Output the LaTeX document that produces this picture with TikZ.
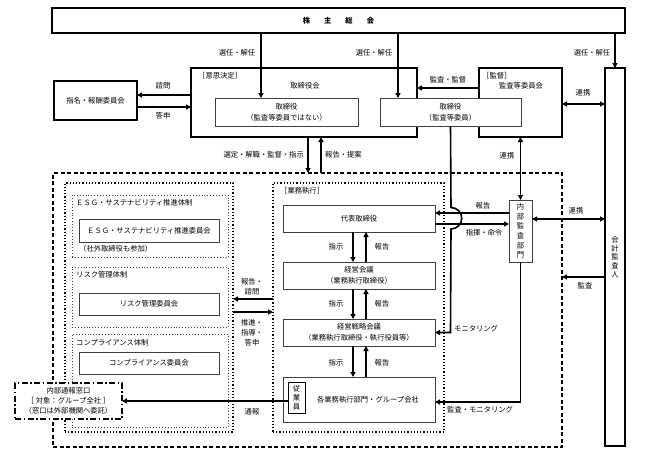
\documentclass[tikz,border=0pt]{standalone}
\usepackage{fontspec}
\setmainfont{Noto Sans CJK JP}
\usepackage{tikz}
\usetikzlibrary{arrows.meta,shapes,calc,positioning}
\tikzstyle{box}=[draw,line width=1.6pt,inner sep=0pt,outer sep=0pt,align=center]
\tikzstyle{inbox}=[box,line width=0.8pt,draw=black!75,fill=white]
\tikzstyle{sysbox}=[draw=black!75,dotted,line width=0.9pt,inner sep=0pt,outer sep=0pt]
\tikzstyle{arr}=[line width=1.6pt,-{Triangle[length=5pt,width=5pt]}]
\tikzstyle{darr}=[line width=1.6pt,{Triangle[length=5pt,width=5pt]}-{Triangle[length=5pt,width=5pt]}]
\tikzstyle{lbl}=[inner sep=0pt,align=center]

\begin{document}
\begin{tikzpicture}[x=1pt,y=-1pt,font=\fontsize{7.3}{11}\selectfont]
\useasboundingbox (0,0) rectangle (648,461);
% rows and columns used by connectors
\coordinate (x261) at (261,0);
\coordinate (x308) at (308,0);
\coordinate (x321) at (321,0);
\coordinate (x353) at (353,0);
\coordinate (x366) at (366,0);
\coordinate (x398) at (398,0);
\coordinate (y95) at (0,95);
\coordinate (y107) at (0,107);
\coordinate (y88) at (0,88);
\coordinate (y104) at (0,104);
\coordinate (y213) at (0,213);
\coordinate (y219) at (0,219);
\coordinate (y224) at (0,224);
\coordinate (y277) at (0,277);
\coordinate (y299) at (0,299);
\coordinate (y312) at (0,312);
\coordinate (y402) at (0,402);

% top level
\node[box,minimum width=573pt,minimum height=25pt] (kabu) at (338.5,20.5)
  {\bfseries 株\hskip14pt 主\hskip14pt 総\hskip14pt 会};
\node[box,minimum width=226pt,minimum height=69pt] (torikai) at (304,102.5) {};
\node[box,minimum width=83pt,minimum height=69pt] (kansa) at (520.5,102.5) {};
\node[lbl,anchor=west] (tkhead) at (198,76) {［意思決定］};
\node[lbl] (tktitle) at (305,86) {取締役会};
\node[lbl,anchor=west] (kshead) at (482,76) {［監督］};
\node[lbl] (kstitle) at (521,86) {監査等委員会};
\node[inbox,minimum width=143pt,minimum height=28pt] (tori1) at (286.5,112)
  {取締役\\（監査等委員ではない）};
\node[inbox,minimum width=141pt,minimum height=28pt] (tori2) at (450.5,112)
  {取締役\\（監査等委員）};
\node[box,minimum width=83pt,minimum height=39pt] (shimei) at (95.5,100.5) {指名・報酬委員会};
\node[box,line width=1.2pt,minimum width=20pt,minimum height=378pt,
  font=\fontsize{7.3}{8.6}\selectfont] (kaikei) at (615,257) {会\\計\\監\\査\\人};

% execution side
\node[box,line width=1.3pt,dashed,dash pattern=on 4pt off 2.5pt,
  minimum width=509pt,minimum height=274pt] (bigdash) at (307.5,310) {};
\node[sysbox,line width=1.2pt,draw=black,minimum width=171pt,minimum height=249pt] (gyomu) at (358.5,307.5) {};
\node[lbl,anchor=west] (gyhead) at (280,191) {［業務執行］};
\node[sysbox,line width=1.2pt,draw=black,minimum width=168pt,minimum height=249pt] (leftgrp) at (149,307.5) {};

\node[sysbox,minimum width=156pt,minimum height=62pt] (esgsys) at (150,226) {};
\node[lbl,anchor=west] (esghead) at (76,203) {ＥＳＧ・サステナビリティ推進体制};
\node[inbox,minimum width=140pt,minimum height=23pt] (esgcom) at (149,230.5) {ＥＳＧ・サステナビリティ推進委員会};
\node[lbl,anchor=west] (esgnote) at (79,249) {（社外取締役も参加）};
\node[sysbox,minimum width=156pt,minimum height=60pt] (risksys) at (150,297) {};
\node[lbl,anchor=west] (riskhead) at (76,275) {リスク管理体制};
\node[inbox,minimum width=140pt,minimum height=22pt] (riskcom) at (149,304) {リスク管理委員会};
\node[sysbox,minimum width=156pt,minimum height=93pt] (compsys) at (150,380.5) {};
\node[lbl,anchor=west] (comphead) at (76,343) {コンプライアンス体制};
\node[inbox,minimum width=140pt,minimum height=22pt] (compcom) at (149,363) {コンプライアンス委員会};

\node[box,line width=1.3pt,dash pattern=on 6pt off 2.5pt on 1.5pt off 2.5pt,fill=white,
  minimum width=107pt,minimum height=36pt,font=\fontsize{7.3}{10}\selectfont] (tsuho) at (68.5,401)
  {内部通報窓口\\［ 対象：グループ全社 ］\\（窓口は外部機関へ委託）};

\node[inbox,minimum width=152pt,minimum height=27pt] (daihyo) at (359,218.5) {代表取締役};
\node[inbox,minimum width=152pt,minimum height=27pt] (keiei) at (359,275.5) {経営会議\\（業務執行取締役）};
\node[inbox,minimum width=152pt,minimum height=27pt] (senryaku) at (359,332.5) {経営戦略会議\\（業務執行取締役・執行役員等）};
\node[inbox,minimum width=152pt,minimum height=45pt] (kakubu) at (359,399.5) {\hskip18pt 各業務執行部門・グループ会社};
\node[box,line width=0.9pt,minimum width=17pt,minimum height=31pt,
  font=\fontsize{7.3}{9}\selectfont] (jugyo) at (296.5,397.5) {従\\業\\員};
\node[inbox,minimum width=23pt,minimum height=62pt,
  font=\fontsize{7.3}{9.6}\selectfont] (naibu) at (520.5,231) {内\\部\\監\\査\\部\\門};

% connectors
\draw[arr] (kabu.south -| x261) -- (tori1.north -| x261);
\draw[arr] (kabu.south -| x398) -- (tori2.north -| x398);
\draw[arr] (kabu.south -| kaikei.north) -- (kaikei.north);
\draw[arr] (torikai.west |- y95) -- (shimei.east |- y95);
\draw[arr] (shimei.east |- y107) -- (torikai.west |- y107);
\draw[arr] (kansa.west |- y88) -- (torikai.east |- y88);
\draw[darr] (kansa.east |- y104) -- (kaikei.west |- y104);
\draw[darr] (naibu.north) -- (kansa.south);
\draw[arr] (torikai.south -| x308) -- (bigdash.north -| x308);
\draw[arr] (bigdash.north -| x321) -- (torikai.south -| x321);
\draw[arr] (tori2.south) -- (451,207.5) arc[start angle=-90,end angle=90,radius=10.75]
  -- (tori2.south |- senryaku.east) -- (senryaku.east);
\draw[arr] (naibu.west |- y213) -- (daihyo.east |- y213);
\draw[arr] (daihyo.east |- y224) -- (naibu.west |- y224);
\draw[arr] (naibu.south) -- (naibu.south |- y402) -- (kakubu.east |- y402);
\draw[darr] (naibu.east |- y219) -- (kaikei.west |- y219);
\draw[arr] (kaikei.west |- y277) -- (bigdash.east |- y277);
\draw[arr] (daihyo.south -| x353) -- (keiei.north -| x353);
\draw[arr] (keiei.north -| x366) -- (daihyo.south -| x366);
\draw[arr] (keiei.south -| x353) -- (senryaku.north -| x353);
\draw[arr] (senryaku.north -| x366) -- (keiei.south -| x366);
\draw[arr] (senryaku.south -| x353) -- (kakubu.north -| x353);
\draw[arr] (kakubu.north -| x366) -- (senryaku.south -| x366);
\draw[arr] (gyomu.west |- y299) -- (leftgrp.east |- y299);
\draw[arr] (leftgrp.east |- y312) -- (gyomu.west |- y312);
\draw[arr] (jugyo.west |- tsuho.east) -- (tsuho.east);

% connector labels
\node[lbl] (l1) at (237,53) {選任・解任};
\node[lbl] (l2) at (374,53) {選任・解任};
\node[lbl] (l3) at (592,53) {選任・解任};
\node[lbl] (l4) at (163,86) {諮問};
\node[lbl] (l5) at (163,116) {答申};
\node[lbl] (l6) at (448,80) {監査・監督};
\node[lbl] (l7) at (583,93) {連携};
\node[lbl] (l8) at (507,156) {連携};
\node[lbl,anchor=east] (l9) at (304,155) {選定・解職・監督・指示};
\node[lbl,anchor=west] (l10) at (325,155) {報告・提案};
\node[lbl] (l11) at (483,206) {報告};
\node[lbl] (l12) at (484,233) {指揮・命令};
\node[lbl] (l13) at (576,211) {連携};
\node[lbl] (l14) at (585,286) {監査};
\node[lbl,anchor=west] (l15) at (454,329) {モニタリング};
\node[lbl,anchor=west] (l16) at (447,410) {監査・モニタリング};
\foreach \y/\n in {247/a,304/b,363/c}{
  \node[lbl] (shiji\n) at (336,\y) {指示};
  \node[lbl] (hokoku\n) at (382,\y) {報告};
}
\node[lbl,font=\fontsize{7.3}{10}\selectfont] (l17) at (252,287) {報告・\\諮問};
\node[lbl,font=\fontsize{7.3}{10}\selectfont] (l18) at (252,333) {推進・\\指導・\\答申};
\node[lbl] (l19) at (252,412) {通報};
\end{tikzpicture}
\end{document}
